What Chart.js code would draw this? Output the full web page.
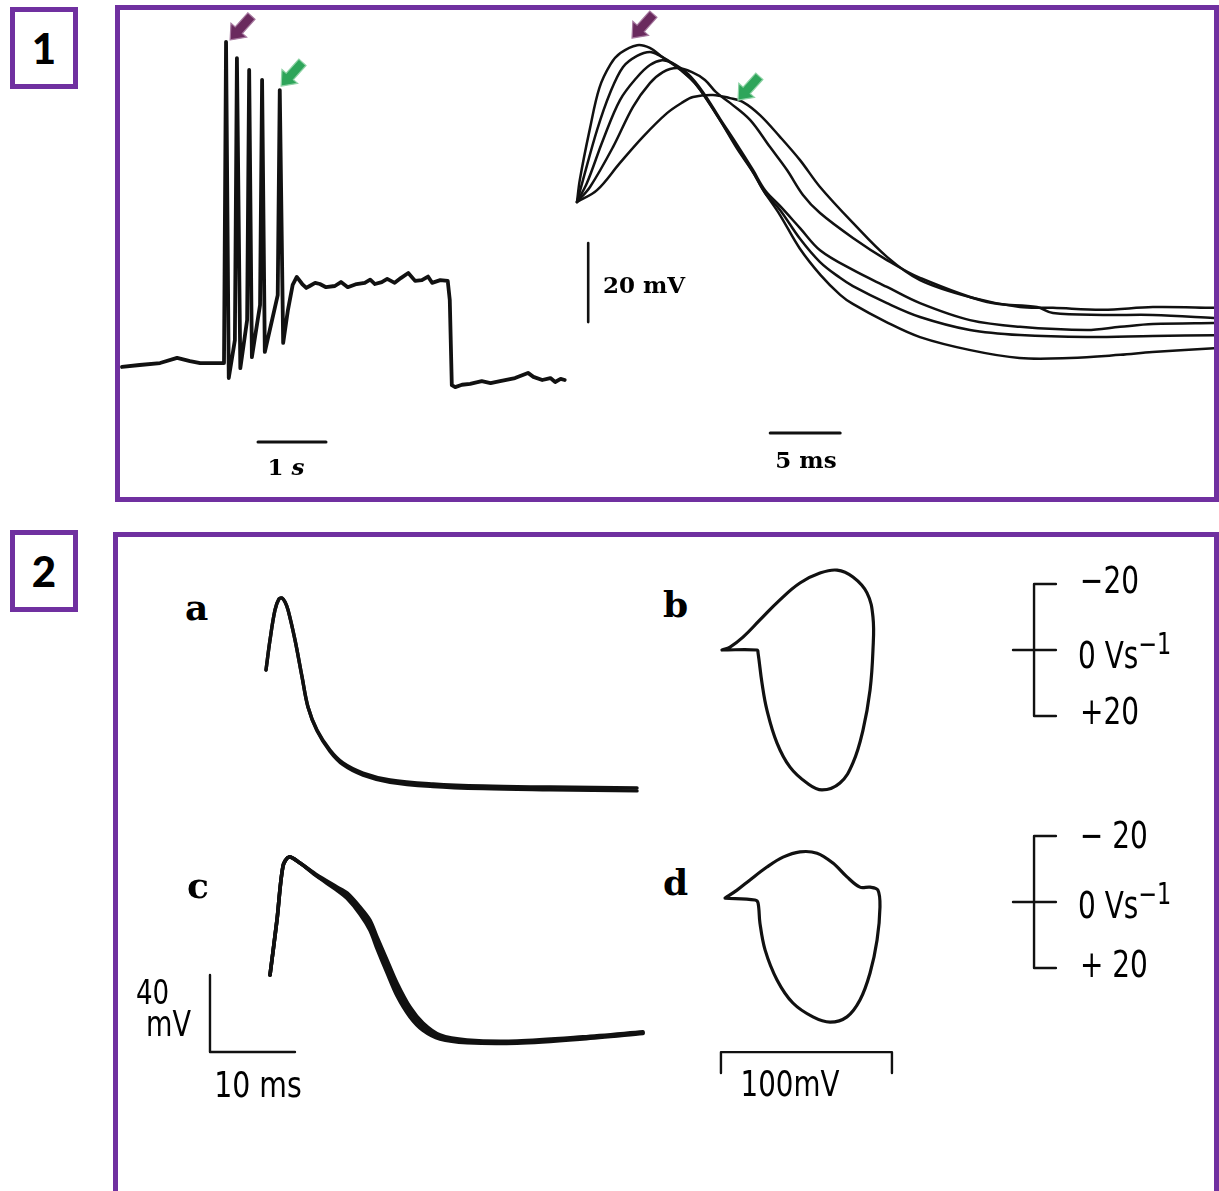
<!DOCTYPE html>
<html><head><meta charset="utf-8">
<script src="https://cdn.jsdelivr.net/npm/chart.js@4.4.1/dist/chart.umd.min.js"></script>
<style>
html,body{margin:0;padding:0;background:#fff;}
#stage{position:relative;width:1219px;height:1191px;overflow:hidden;background:#fff;}
.box{position:absolute;border:5px solid #7030A0;box-sizing:border-box;}
.num{position:absolute;border:5px solid #7030A0;box-sizing:border-box;font-family:Lato,"Open Sans",sans-serif;font-weight:900;font-size:42px;display:flex;align-items:center;justify-content:center;color:#000;}
canvas{position:absolute;}
.lbl{position:absolute;white-space:nowrap;line-height:1;color:#000;}
.serif{font-family:"DejaVu Serif",serif;font-weight:bold;}
.din{font-family:"Liberation Sans Narrow","DejaVu Sans Condensed","DejaVu Sans",sans-serif;}
sup{font-size:0.8em;vertical-align:0.45em;}
</style></head><body>
<div id="stage">
  <div class="num" style="left:10px;top:7px;width:68px;height:82px;">1</div>
  <div class="box" style="left:115px;top:5px;width:1104px;height:497px;"></div>
  <div class="num" style="left:10px;top:530px;width:68px;height:82px;">2</div>
  <div class="box" style="left:113px;top:532px;width:1106px;height:700px;"></div>
</div>
<script>
// ---------- Panel 1 left: spike train (time in s, membrane potential in mV)
const trainT = [0,0.26,0.56,0.81,1.00,1.15,1.37,1.50,1.53,1.57,1.66,1.69,1.74,1.84,1.87,1.91,2.03,2.06,2.10,2.29,2.32,2.37,2.44,2.51,2.57,2.65,2.71,2.76,2.84,2.91,3.00,3.13,3.22,3.32,3.45,3.57,3.65,3.72,3.82,3.90,4.01,4.10,4.21,4.31,4.41,4.50,4.56,4.68,4.79,4.82,4.85,4.90,5.00,5.12,5.29,5.42,5.56,5.78,5.97,6.05,6.18,6.30,6.37,6.45,6.51];
const trainV = [-60.5,-60.0,-59.5,-58.2,-59.0,-59.5,-59.5,-59.5,21.8,-63.3,-53.7,17.7,-60.8,-48.6,14.7,-58.0,-44.8,12.2,-56.7,-42.3,9.6,-54.4,-46.1,-39.7,-37.7,-39.5,-40.5,-40.0,-39.2,-39.5,-40.3,-40.0,-39.0,-40.3,-39.5,-39.2,-38.4,-39.5,-39.0,-38.2,-39.2,-38.0,-36.7,-38.7,-38.5,-37.6,-39.2,-38.5,-38.7,-43.5,-65.1,-65.6,-65.0,-64.8,-64.1,-64.6,-64.1,-63.3,-62.0,-63.0,-63.8,-63.3,-64.3,-63.5,-63.8];

// ---------- Panel 1 right: five superimposed action potentials (time in ms, mV)
const ap1T = [0,0.2,0.9,1.6,2.4,3.1,4.3,5.2,6.1,7.4,8.6,10.2,11.4,12.6,13.4,14.5,15.9,17.4,18.8,19.7,22.1,24.5,28.1,31.6,35.2,38.8,41.1,45.7];
const ap1V = [-50,-44.4,-31.8,-21.1,-15.1,-12.3,-10.3,-11.0,-13.3,-16.6,-20.6,-29.2,-36.3,-42.6,-47.5,-53.3,-61.7,-68.5,-73.5,-75.8,-80.4,-84.2,-87.5,-89.5,-89.5,-88.7,-88.0,-87.0];
const ap2T = [0,0.43,1.43,2.36,3.29,4.29,5.21,5.93,7.0,8.07,8.79,10.21,11.43,12.57,13.43,14.5,15.93,17.36,18.79,19.71,22.14,24.5,28.07,31.64,36.43,41.14,45.71];
const ap2V = [-50,-44.4,-31.8,-22.4,-15.8,-13.0,-12.0,-13.0,-15.3,-18.6,-21.6,-29.2,-36.1,-42.4,-47.7,-52.0,-59.3,-65.2,-69.2,-71.3,-75.6,-79.1,-82.4,-83.7,-84.2,-83.9,-83.7];
const ap3T = [0,0.71,1.86,3.07,4.29,5.21,6.07,6.79,7.93,9.0,10.21,11.43,12.57,13.43,14.5,15.93,17.36,19.71,22.14,24.5,28.07,31.64,36.43,38.79,41.14,45.71];
const ap3V = [-50,-45.2,-34.3,-24.2,-18.4,-15.3,-14.1,-14.8,-17.6,-22.2,-28.9,-35.5,-41.9,-47.0,-51.0,-56.6,-62.2,-67.2,-71.5,-75.6,-79.9,-81.6,-82.4,-81.6,-80.9,-80.6];
const ap4T = [0,0.93,2.57,4.0,5.21,6.14,7.14,8.21,9.14,9.93,10.93,12.36,13.79,15.0,16.14,17.36,19.71,22.14,24.5,29.29,32.86,34.0,37.57,41.14,45.71];
const ap4V = [-50,-46.2,-36.1,-25.9,-19.9,-17.1,-16.1,-17.1,-19.1,-22.2,-24.9,-29.2,-36.1,-41.9,-48.2,-52.8,-59.1,-64.7,-69.2,-75.3,-76.6,-78.1,-78.6,-78.6,-79.4];
const ap5T = [0,1.43,3.07,4.71,6.43,7.57,8.29,9.71,10.93,11.86,13.07,14.5,15.93,17.36,19.71,22.14,24.5,28.07,31.64,34.0,37.57,41.14,45.71];
const ap5V = [-50,-47.0,-40.1,-33.5,-27.5,-24.7,-23.4,-22.9,-23.7,-24.7,-28.0,-33.5,-39.4,-46.2,-55.3,-63.9,-69.8,-74.1,-76.6,-76.8,-77.3,-76.6,-76.8];

// ---------- Panel 2: a / c action potentials (ms, mV), superimposed sweeps
const apAT = [0,0.47,1.06,1.53,1.88,2.24,2.59,3.41,4.24,4.94,6.0,7.53,9.06,11.41,14.59,19.65,25.53,33.41,43.65];
const apAV = [-18.7,-3.1,12.5,18.2,18.7,16.6,12.5,-3.1,-22.3,-37.9,-49.9,-60.3,-67.0,-72.2,-75.8,-77.9,-79.0,-79.5,-80.0];
const apA2V = [-18.7,-3.1,12.5,18.2,18.7,16.6,12.5,-3.1,-22.3,-37.9,-50.3,-61.0,-67.9,-73.3,-77.0,-79.2,-80.3,-80.9,-81.5];
const apCT = [0,0.82,1.53,2.24,3.53,5.53,7.88,9.06,10.59,11.76,12.59,13.76,14.94,16.47,18.0,20.0,23.18,29.06,36.82,43.88];
const apCV = [-46.2,-17.7,10.4,15.1,11.9,5.7,-0.5,-3.6,-10.9,-17.7,-26.5,-38.4,-50.4,-62.9,-71.2,-77.4,-80.0,-80.5,-78.4,-75.8];
const apC2V = [-46.2,-17.7,10.4,15.1,11.9,5.3,-1.4,-5.0,-12.8,-20.4,-29.5,-41.7,-53.7,-65.5,-73.1,-78.5,-80.7,-81.1,-78.9,-76.2];
const apC3V = [-46.2,-17.7,10.4,15.1,11.9,5.0,-2.2,-6.4,-14.6,-23.0,-32.5,-45.0,-57.0,-68.0,-75.0,-79.5,-81.4,-81.6,-79.4,-76.6];

// ---------- Panel 2: b / d phase plots (V in mV, dV/dt in V/s)
const loopBV = [-80.6,-60.1,-59.5,-57.2,-54.3,-48.4,-40.8,-30.9,-22.1,-11.6,-4.0,1.9,6.0,7.7,7.7,4.2,-4.0,-13.3,-23.3,-35.0,-46.7,-58.4,-68.3,-75.9,-80.6];
const loopBdV = [0,0,0.9,10.0,18.2,28.2,35.5,40.3,42.4,40.3,34.2,24.2,12.1,0,-10.0,-17.3,-22.1,-24.2,-23.3,-20.3,-15.2,-9.1,-3.9,-0.9,0];
const loopDV = [-78.8,-61.3,-59.5,-58.4,-55.4,-48.4,-39.1,-27.4,-17.4,-7.5,0.1,6.0,10.1,11.8,10.6,6.0,0.1,-7.5,-15.7,-25.0,-35.0,-44.9,-54.3,-64.2,-71.8,-78.8];
const loopDdV = [-1.2,-0.6,0.3,6.4,14.5,23.6,30.6,34.8,36.4,34.8,29.7,21.5,11.5,1.5,-3.6,-4.5,-4.5,-7.6,-11.8,-14.8,-15.2,-13.6,-10.6,-6.7,-3.6,-1.2];

// ---------- scale bars (data units)
const bar1s = [2.0, 3.0];            // s, at -79.5 mV
const bar20mV = [-80.4, -60.4];      // mV, at 0.8 ms
const bar5ms = [13.8, 18.8];         // ms, at -108.5 mV
const bracketTicks = [-20, 0, 20];   // V/s
const bar100mV = [-81.2, 18.8];      // mV

const stage = document.getElementById('stage');
const pts = (xs, ys) => xs.map((x, i) => ({x, y: ys[i]}));
const line = (data, w, tension) => ({data, showLine: true, borderColor: '#111', borderWidth: w, tension: tension || 0, pointRadius: 0, borderJoinStyle: 'round', borderCapStyle: 'round'});

const arrowPlugin = (arrows) => ({
  id: 'arrows',
  afterDatasetsDraw(chart) {
    const {ctx, scales: {x, y}} = chart;
    arrows.forEach(a => {
      const px = x.getPixelForValue(a.x), py = y.getPixelForValue(a.y);
      ctx.save();
      ctx.translate(px, py);
      ctx.rotate(2.3);
      ctx.beginPath();
      ctx.moveTo(0, 0); ctx.lineTo(-13, -10.5); ctx.lineTo(-13, -4.8); ctx.lineTo(-32, -4.8);
      ctx.lineTo(-32, 4.8); ctx.lineTo(-13, 4.8); ctx.lineTo(-13, 10.5); ctx.closePath();
      ctx.fillStyle = a.fill; ctx.fill();
      ctx.lineWidth = 1.2; ctx.strokeStyle = a.edge; ctx.stroke();
      ctx.restore();
    });
  }
});

function mk(left, top, w, h, xr, yr, datasets, plugins, rev) {
  const c = document.createElement('canvas');
  c.width = w; c.height = h;
  c.style.left = left + 'px'; c.style.top = top + 'px';
  c.style.width = w + 'px'; c.style.height = h + 'px';
  stage.appendChild(c);
  return new Chart(c, {
    type: 'scatter',
    data: {datasets},
    options: {
      responsive: false, animation: false, devicePixelRatio: 1,
      layout: {padding: 0},
      plugins: {legend: {display: false}, tooltip: {enabled: false}},
      scales: {
        x: {type: 'linear', display: false, min: xr[0], max: xr[1]},
        y: {type: 'linear', display: false, min: yr[0], max: yr[1], reverse: !!rev}
      }
    },
    plugins: plugins || []
  });
}

const PURPLE = {fill: '#6a2a5e', edge: '#a77aa0'};
const GREEN = {fill: '#2ea55a', edge: '#8fd3a6'};

// Panel 1 left
mk(120, 10, 450, 470, [-0.0294, 6.588], [-89.11, 29.87], [
  line(pts(trainT, trainV), 3.8),
  line([{x: bar1s[0], y: -79.5}, {x: bar1s[1], y: -79.5}], 3)
], [arrowPlugin([
  Object.assign({x: 1.59, y: 22.3}, PURPLE),
  Object.assign({x: 2.34, y: 10.6}, GREEN)
])]);

// Panel 1 right
mk(570, 10, 644, 470, [-0.5, 45.5], [-120.38, -1.39], [
  line(pts(ap1T, ap1V), 2.5, 0.35),
  line(pts(ap2T, ap2V), 2.5, 0.35),
  line(pts(ap3T, ap3V), 2.5, 0.35),
  line(pts(ap4T, ap4V), 2.5, 0.35),
  line(pts(ap5T, ap5V), 2.5, 0.35),
  line([{x: 0.8, y: bar20mV[0]}, {x: 0.8, y: bar20mV[1]}], 2.6),
  line([{x: bar5ms[0], y: -108.5}, {x: bar5ms[1], y: -108.5}], 3)
], [arrowPlugin([
  Object.assign({x: 3.93, y: -8.5}, PURPLE),
  Object.assign({x: 11.5, y: -24.2}, GREEN)
])]);

// Panel 2 a
mk(240, 570, 420, 240, [-3.059, 46.353], [-91.429, 33.247], [
  line(pts(apAT, apAV), 3.4, 0.35),
  line(pts(apAT, apA2V), 3.4, 0.35)
]);

// Panel 2 c (+ 40 mV / 10 ms scale bar)
mk(200, 840, 460, 225, [-8.235, 45.882], [-92.987, 23.896], [
  line(pts(apCT, apCV), 3.6, 0.3),
  line(pts(apCT, apC2V), 3.6, 0.3),
  line(pts(apCT, apC3V), 3.6, 0.3),
  line([{x: -7.06, y: -46.23}, {x: -7.06, y: -86.23}, {x: 2.94, y: -86.23}], 2.4)
]);

// Panel 2 b (+ dV/dt bracket)
const bracket = (ticks) => [
  line([{x: 114.7, y: ticks[0]}, {x: 101.9, y: ticks[0]}, {x: 101.9, y: ticks[2]}, {x: 114.7, y: ticks[2]}], 2.4),
  line([{x: 89.6, y: ticks[1]}, {x: 114.7, y: ticks[1]}], 2.4)
];
mk(700, 550, 500, 260, [-93.45, 198.95], [-30.30, 48.48], [
  line(pts(loopBV, loopBdV), 3.2, 0.4),
  ...bracket(bracketTicks)
], [], true);

// Panel 2 d (+ bracket, 100 mV bar)
mk(700, 820, 500, 265, [-93.45, 198.95], [-24.85, 55.45], [
  line(pts(loopDV, loopDdV), 3.2, 0.35),
  ...bracket(bracketTicks),
  line([{x: bar100mV[0], y: 51.8}, {x: bar100mV[0], y: 45.5}, {x: bar100mV[1], y: 45.5}, {x: bar100mV[1], y: 51.8}], 2.4)
], [], true);

// ---------- text labels
function txt(html, cls, x, y, size, anchor, sx) {
  const d = document.createElement('div');
  d.className = 'lbl ' + cls;
  d.innerHTML = html;
  d.style.fontSize = size + 'px';
  d.style.left = x + 'px'; d.style.top = y + 'px';
  const s = sx ? ' scaleX(' + sx + ')' : '';
  d.style.transformOrigin = anchor === 'c' ? '50% 50%' : '0 50%';
  d.style.transform = (anchor === 'c' ? 'translate(-50%,-50%)' : 'translate(0,-50%)') + s;
  stage.appendChild(d);
}
txt('20 mV', 'serif', 603, 284, 23);
txt('5 ms', 'serif', 806, 459, 23, 'c');
txt('1 <i>s</i>', 'serif', 286, 466, 23, 'c');
txt('a', 'serif', 185, 607, 36);
txt('b', 'serif', 663, 604, 36);
txt('c', 'serif', 187, 885, 36);
txt('d', 'serif', 663, 882, 36);
txt('\u221220', 'din', 1080, 580, 37, null, 0.84);
txt('0 Vs<sup>\u22121</sup>', 'din', 1078, 652, 37, null, 0.84);
txt('+20', 'din', 1080, 711, 37, null, 0.84);
txt('\u2212 20', 'din', 1080, 835, 37, null, 0.84);
txt('0 Vs<sup>\u22121</sup>', 'din', 1078, 902, 37, null, 0.84);
txt('+ 20', 'din', 1080, 964, 37, null, 0.84);
txt('40', 'din', 136, 992, 33, null, 0.88);
txt('mV', 'din', 146, 1024, 35, null, 0.86);
txt('10 ms', 'din', 258, 1085, 35, 'c', 0.9);
txt('100mV', 'din', 790, 1084, 35, 'c', 0.88);
</script>
</body></html>
